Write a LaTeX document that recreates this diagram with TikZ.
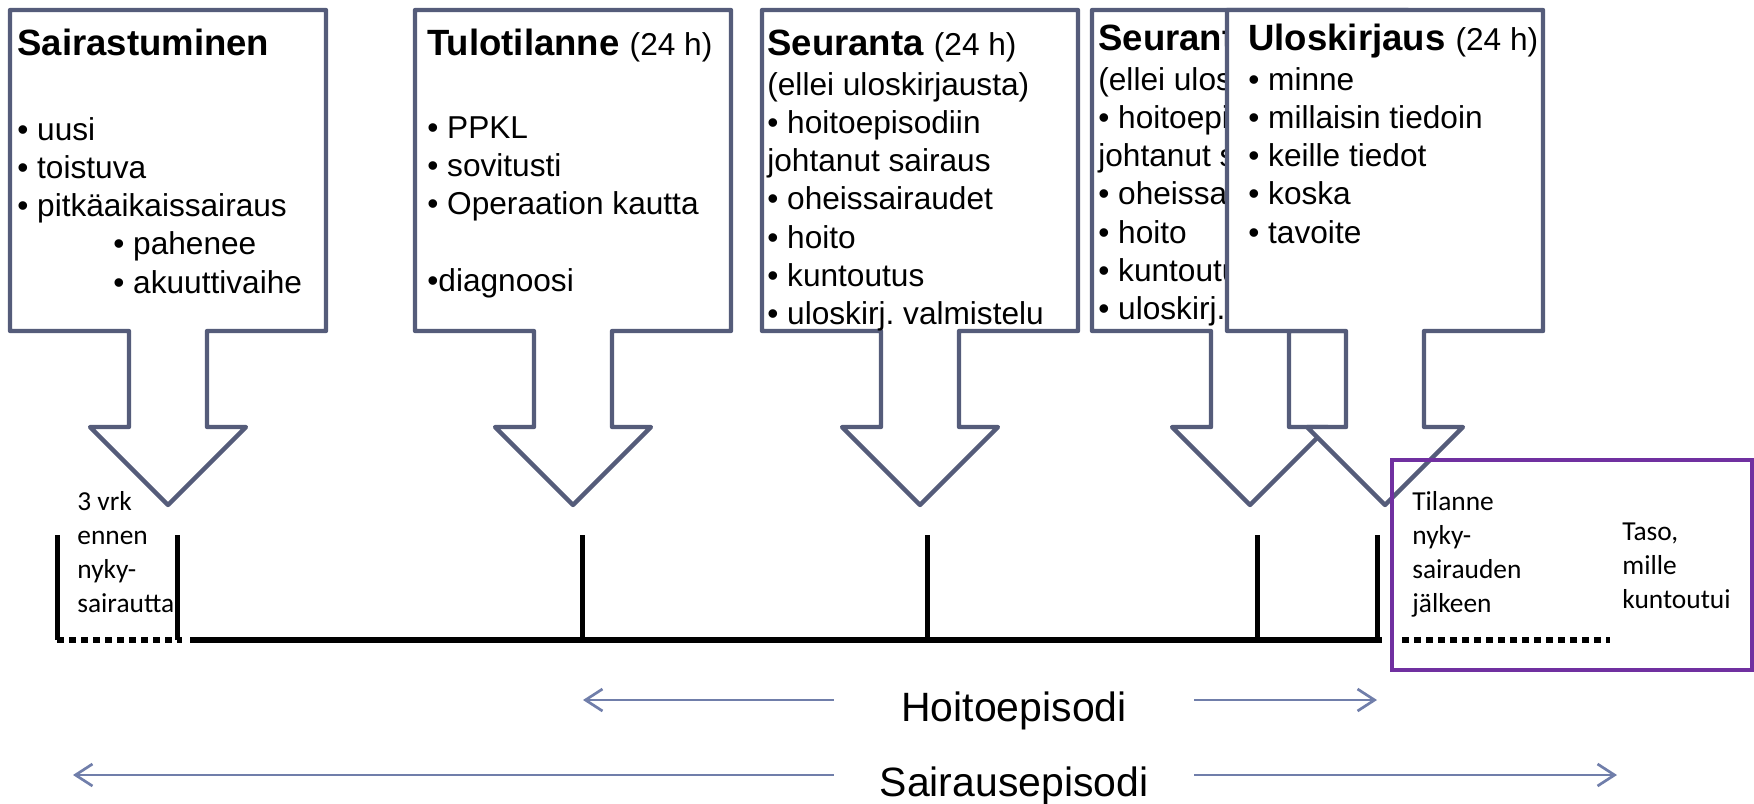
\documentclass[tikz,border=0pt]{standalone}
\usepackage{fontspec}
\setmainfont{Liberation Sans}
\newfontfamily\calibri{Carlito}
\usepackage{xcolor}
\usepackage{tikz}
\usetikzlibrary{arrows.meta, calc}
\frenchspacing

\definecolor{slate}{RGB}{85,92,122}
\definecolor{spanblue}{RGB}{112,126,170}
\definecolor{plum}{RGB}{112,48,160}

% lines of a box, first baseline is the node's base
\newcommand{\items}[1]{\begin{tabular}[t]{@{}l@{}}#1\end{tabular}}
\newcommand{\hrs}{{\mdseries\fontsize{18}{21.8}\selectfont(24 h)}}
% down arrow callout, #1 = left edge, #2 = name
\newcommand{\calloutshape}[2]{%
  \draw[callout] (#1,10) coordinate (#2) -- ++(316,0) -- ++(0,321) -- ++(-119,0)
    -- ++(0,96) -- ++(39,0) -- ++(-78,78) coordinate (#2tip) -- ++(-78,-78)
    -- ++(39,0) -- ++(0,-96) -- ++(-119,0) -- cycle;}

\begin{document}
\begin{tikzpicture}[
                x=0.2mm, y=-0.2mm,
                callout/.style={draw=slate, fill=white, line width=0.86mm, line join=round},
                boxtitle/.style={anchor=base west, inner sep=0, font=\fontsize{20.8}{25}\selectfont\bfseries},
                boxbody/.style={anchor=base west, inner sep=0, font=\fontsize{18}{21.8}\selectfont},
                note/.style={anchor=base west, inner sep=0, font=\calibri\fontsize{15.6}{19.35}\selectfont},
                axis/.style={line width=1.2mm},
                tickline/.style={line width=1mm},
                dotline/.style={line width=1.2mm, dash pattern=on 1.4mm off 1mm},
                afterbox/.style={draw=plum, line width=0.9mm},
                span/.style={draw=spanblue, line width=0.54mm, -{Straight Barb[length=3.4mm, width=4.4mm]}},
                spanlabel/.style={anchor=base, inner sep=0, minimum width=72mm, font=\fontsize{23.3}{28}\selectfont}
            ]
                \useasboundingbox (0,0) rectangle (1754,803);

                % Callouts
                \calloutshape{10}{sair}
                \node[boxtitle] (sairT) at (17,55) {Sairastuminen};
                \node[boxbody] (sairB) at (17,140) {\items{• uusi\\ • toistuva\\ • pitkäaikaissairaus\\
                    \hspace*{19.2mm}• pahenee\\ \hspace*{19.2mm}• akuuttivaihe}};

                \calloutshape{415}{tulo}
                \node[boxtitle] (tuloT) at (427,55) {Tulotilanne \hrs};
                \node[boxbody] (tuloB) at (427,138) {\items{• PPKL\\ • sovitusti\\ • Operaation kautta\\ \\ •diagnoosi}};

                \calloutshape{762}{seur}
                \node[boxtitle] (seurT) at (767,55) {Seuranta \hrs};
                \node[boxbody] (seurB) at (767,95) {\items{(ellei uloskirjausta)\\ • hoitoepisodiin\\ johtanut sairaus\\
                    • oheissairaudet\\ • hoito\\ • kuntoutus\\ • uloskirj. valmistelu}};

                \calloutshape{1092}{seurb}
                \node[boxtitle] (seurbT) at (1098,50) {Seuranta \hrs};
                \node[boxbody] (seurbB) at (1098,90) {\items{(ellei uloskirjausta)\\ • hoitoepisodiin\\ johtanut sairaus\\
                    • oheissairaudet\\ • hoito\\ • kuntoutus\\ • uloskirj. valmistelu}};

                \calloutshape{1227}{ulos}
                \node[boxtitle] (ulosT) at (1248,50) {Uloskirjaus \hrs};
                \node[boxbody] (ulosB) at (1248,90) {\items{• minne\\ • millaisin tiedoin\\ • keille tiedot\\ • koska\\ • tavoite}};

                % Time line
                \node[note] (before) at (77,510) {\items{3 vrk\\ ennen\\ nyky-\\ sairautta}};
                \draw[dotline] (57,640) -- (182,640);
                \draw[axis] (190,640) -- (1382,640);
                \foreach \x in {57,177,582,927,1257,1377}
                    \draw[tickline] (\x,535) -- (\x,640);
                \draw[dotline] (1402,640) -- (1610,640);

                % After the illness
                \draw[afterbox] (1392,460) rectangle (1752,670);
                \node[note] (tilanne) at (1412,510) {\items{Tilanne\\ nyky-\\ sairauden\\ jälkeen}};
                \node[note] (taso) at (1622,540) {\items{Taso,\\ mille\\ kuntoutui}};

                % Episodes
                \coordinate (hoitoL) at (583,700);
                \coordinate (hoitoR) at (1377,700);
                \coordinate (sairL) at (73,775);
                \coordinate (sairR) at (1617,775);
                \node[spanlabel] (hoito) at (1014,721) {Hoitoepisodi};
                \node[spanlabel] (sairaus) at (1014,796) {Sairausepisodi};
                \draw[span] (hoito.west |- hoitoL) -- (hoitoL);
                \draw[span] (hoito.east |- hoitoR) -- (hoitoR);
                \draw[span] (sairaus.west |- sairL) -- (sairL);
                \draw[span] (sairaus.east |- sairR) -- (sairR);
            \end{tikzpicture}
\end{document}
